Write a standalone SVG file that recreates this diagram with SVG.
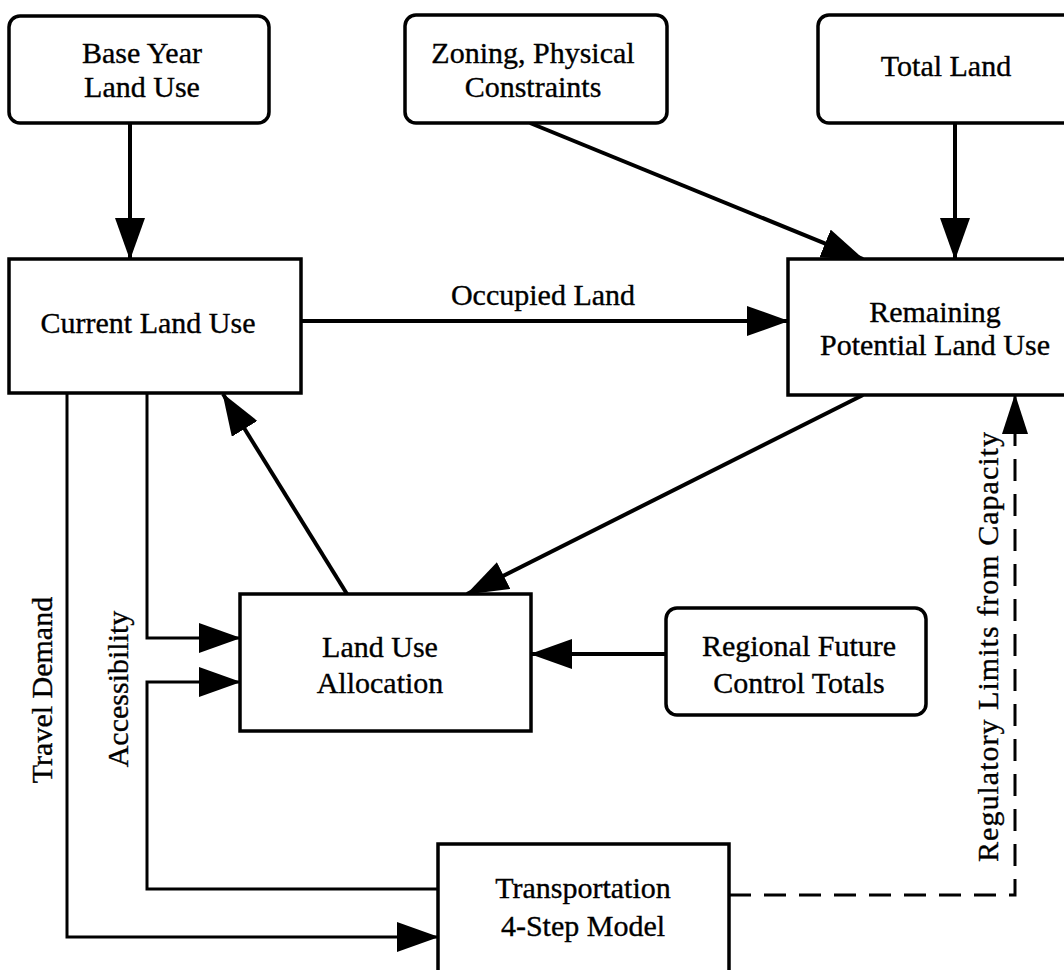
<svg xmlns="http://www.w3.org/2000/svg" width="1064" height="970" viewBox="0 0 1064 970">
<style>
  .box { fill: #fff; stroke: #000; stroke-width: 3.5; }
  .t { font-family: "Liberation Serif", "Times New Roman", serif; font-size: 30px; fill: #000; stroke: #000; stroke-width: 0.35; text-anchor: middle; }
  .c { fill: none; stroke: #000; stroke-width: 4; marker-end: url(#ah); }
  .thin { stroke-width: 3; }
  .dash { fill: none; stroke: #000; stroke-width: 3; stroke-dasharray: 22 13; marker-end: url(#ah2); }
</style>
<defs>
  <marker id="ah" markerUnits="userSpaceOnUse" markerWidth="42" markerHeight="30" refX="41" refY="15" orient="auto">
    <path d="M0,0 L42,15 L0,30 Z" fill="#000"/>
  </marker>
  <marker id="ah2" markerUnits="userSpaceOnUse" markerWidth="40" markerHeight="26" refX="39" refY="13" orient="auto">
    <path d="M0,0 L40,13 L0,26 Z" fill="#000"/>
  </marker>
</defs>
<rect width="1064" height="970" fill="#fff"/>

<g id="connectors">
  <line class="c" x1="130" y1="123" x2="130" y2="259"/>
  <line class="c" x1="530" y1="123" x2="863" y2="259"/>
  <line class="c" x1="955" y1="123" x2="955" y2="259"/>
  <line class="c" x1="301" y1="321" x2="788" y2="321"/>
  <line class="c" x1="347" y1="594" x2="223" y2="394"/>
  <line class="c" x1="863" y1="395" x2="467" y2="594"/>
  <line class="c" x1="666" y1="654" x2="531" y2="654"/>
  <polyline class="c thin" points="147,393 147,638 240,638"/>
  <polyline class="c thin" points="438,889 147,889 147,682 240,682"/>
  <polyline class="c thin" points="67,393 67,937 438,937"/>
  <polyline class="dash" points="729,895 1015,895 1015,395"/>
  <text class="t" x="543" y="305">Occupied Land</text>
  <text class="t" transform="translate(52,690) rotate(-90)">Travel Demand</text>
  <text class="t" transform="translate(128,689) rotate(-90)">Accessibility</text>
  <text class="t" style="text-anchor:start" transform="translate(998,862) rotate(-90)" textLength="430" lengthAdjust="spacing">Regulatory Limits from Capacity</text>
</g>

<g id="base-year">
  <rect class="box" x="9" y="16" width="260" height="107" rx="11"/>
  <text class="t" x="142" y="63">Base Year</text>
  <text class="t" x="142" y="97">Land Use</text>
</g>
<g id="zoning">
  <rect class="box" x="405" y="15" width="262" height="108" rx="11"/>
  <text class="t" x="533" y="63">Zoning, Physical</text>
  <text class="t" x="533" y="97">Constraints</text>
</g>
<g id="total-land">
  <rect class="box" x="818" y="15" width="262" height="108" rx="11"/>
  <text class="t" x="946" y="76">Total Land</text>
</g>
<g id="current-land-use">
  <rect class="box" x="9" y="259" width="292" height="134"/>
  <text class="t" x="148" y="333">Current Land Use</text>
</g>
<g id="remaining">
  <rect class="box" x="788" y="259" width="300" height="136"/>
  <text class="t" x="935" y="322">Remaining</text>
  <text class="t" x="935" y="355">Potential Land Use</text>
</g>
<g id="allocation">
  <rect class="box" x="240" y="594" width="291" height="137"/>
  <text class="t" x="380" y="657">Land Use</text>
  <text class="t" x="380" y="693">Allocation</text>
</g>
<g id="regional">
  <rect class="box" x="666" y="608" width="260" height="107" rx="11"/>
  <text class="t" x="799" y="656">Regional Future</text>
  <text class="t" x="799" y="693">Control Totals</text>
</g>
<g id="transportation">
  <rect class="box" x="438" y="844" width="291" height="160"/>
  <text class="t" x="583" y="898">Transportation</text>
  <text class="t" x="583" y="936">4-Step Model</text>
</g>
</svg>
